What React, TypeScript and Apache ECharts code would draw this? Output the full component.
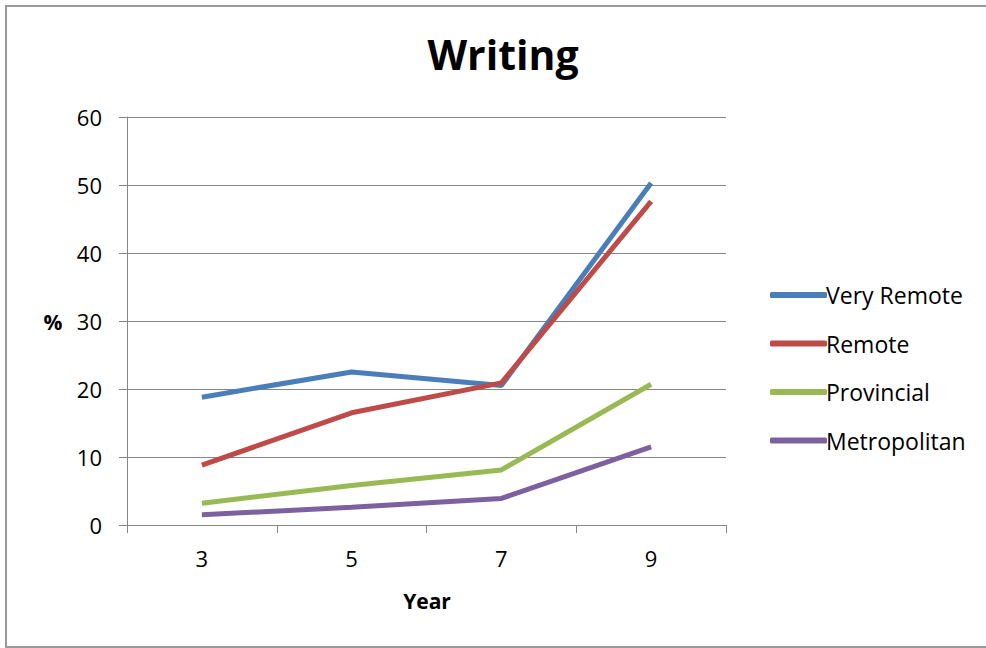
import React, { useEffect, useRef } from "react";
import * as echarts from "echarts";

const categories = ["3", "5", "7", "9"];
const veryRemote = [18.8, 22.5, 20.5, 50.3];
const remote = [8.8, 16.5, 20.9, 47.6];
const provincial = [3.2, 5.8, 8.1, 20.7];
const metropolitan = [1.5, 2.6, 3.9, 11.5];
const seriesNames = ["Very Remote", "Remote", "Provincial", "Metropolitan"];
const seriesColors = ["#4A7EBB", "#BE4B48", "#98B954", "#7D60A0"];

const FONT = "'Open Sans', 'DejaVu Sans', sans-serif";

export default function App() {
  const ref = useRef<HTMLDivElement>(null);
  useEffect(() => {
    document.body.style.margin = "0";
    const chart = echarts.init(ref.current!, null, { renderer: "svg" });
    const data = [veryRemote, remote, provincial, metropolitan];
    chart.setOption({
      animation: false,
      backgroundColor: "#fff",
      title: {
        text: "Writing",
        left: 498,
        top: 28,
        textAlign: "center",
        textStyle: { fontFamily: FONT, fontSize: 41, fontWeight: "bold", color: "#000" },
      },
      grid: { left: 127, right: 260, top: 117, bottom: 123 },
      legend: {
        orient: "vertical",
        left: 765,
        top: 278,
        itemWidth: 57,
        itemHeight: 6,
        itemGap: 24.5,
        icon: "roundRect",
        textStyle: { fontFamily: FONT, fontSize: 23, color: "#000", lineHeight: 24, padding: [0, 0, 0, -6] },
        data: seriesNames,
      },
      xAxis: {
        type: "category",
        data: categories,
        boundaryGap: true,
        axisLine: { lineStyle: { color: "#868686", width: 1 } },
        axisTick: { show: true, length: 8, inside: false, lineStyle: { color: "#868686" } },
        axisLabel: { fontFamily: FONT, fontSize: 22, color: "#000", margin: 22 },
        splitLine: { show: false },
      },
      yAxis: {
        type: "value",
        min: 0,
        max: 60,
        interval: 10,
        axisLine: { show: true, lineStyle: { color: "#868686", width: 1 } },
        axisTick: { show: true, length: 8, lineStyle: { color: "#868686" } },
        axisLabel: { fontFamily: FONT, fontSize: 22, color: "#000", margin: 25 },
        splitLine: { show: true, lineStyle: { color: "#868686", width: 1 } },
      },
      graphic: [
        {
          type: "rect",
          silent: true,
          shape: { x: 6, y: 6, width: 1000, height: 641 },
          style: { fill: "none", stroke: "#999", lineWidth: 2 },
        },
        {
          type: "text",
          x: 53,
          y: 322,
          style: {
            text: "%",
            fontFamily: FONT,
            fontSize: 21,
            fontWeight: "bold",
            fill: "#000",
            textAlign: "center",
            textVerticalAlign: "middle",
          },
        },
        {
          type: "text",
          x: 427,
          y: 601,
          style: {
            text: "Year",
            fontFamily: FONT,
            fontSize: 21,
            fontWeight: "bold",
            fill: "#000",
            textAlign: "center",
            textVerticalAlign: "middle",
          },
        },
      ],
      series: seriesNames.map((name, i) => ({
        name,
        type: "line",
        data: data[i],
        symbol: "none",
        showSymbol: false,
        lineStyle: { color: seriesColors[i], width: 5 },
        itemStyle: { color: seriesColors[i] },
        emphasis: { disabled: true },
      })),
    });
    return () => chart.dispose();
  }, []);
  return <div ref={ref} style={{ width: 986, height: 648 }} />;
}
